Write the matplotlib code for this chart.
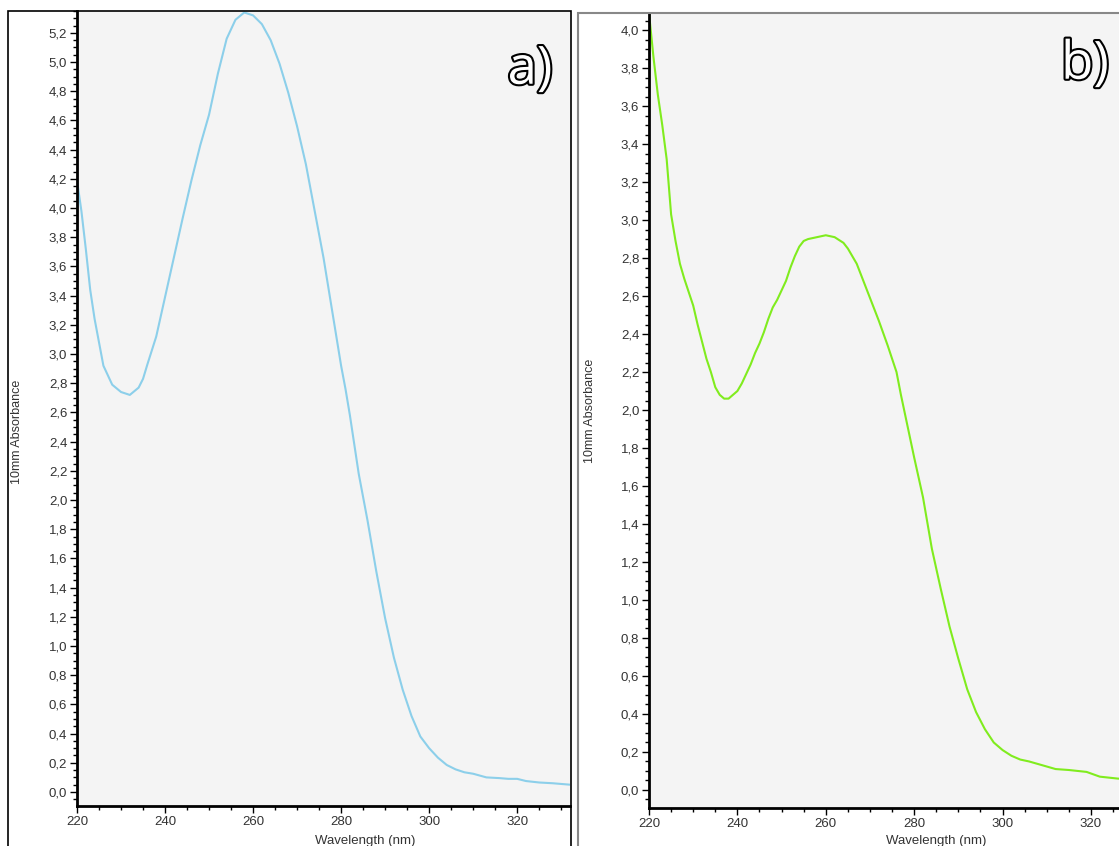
import matplotlib
matplotlib.use("Agg")
import matplotlib.pyplot as plt
import matplotlib.patheffects as pe
from matplotlib.patches import Rectangle
from matplotlib.ticker import MultipleLocator, FuncFormatter

# spectrum a)
wl_a = [220, 221, 222, 223, 224, 226, 228, 230, 232, 234, 235, 236, 238, 240,
        242, 244, 246, 248, 250, 252, 254, 256, 258, 260, 262, 264, 266, 268,
        270, 272, 274, 276, 278, 280, 281, 282, 283, 284, 285, 286, 288, 290,
        292, 294, 296, 298, 300, 302, 304, 306, 308, 310, 313, 316, 318, 320,
        322, 325, 328, 332]
abs_a = [4.19, 3.98, 3.72, 3.44, 3.24, 2.92, 2.79, 2.74, 2.72, 2.77, 2.83, 2.93,
         3.12, 3.39, 3.66, 3.93, 4.19, 4.43, 4.64, 4.92, 5.16, 5.29, 5.34, 5.32,
         5.26, 5.15, 4.99, 4.79, 4.56, 4.30, 3.98, 3.66, 3.29, 2.92, 2.76, 2.58,
         2.38, 2.18, 2.02, 1.86, 1.51, 1.19, 0.92, 0.70, 0.52, 0.38, 0.30, 0.235,
         0.185, 0.155, 0.135, 0.125, 0.10, 0.095, 0.09, 0.09, 0.075, 0.065, 0.06,
         0.05]

# spectrum b)
wl_b = [220, 221, 222, 223, 224, 225, 226, 227, 228, 229, 230, 231, 232, 233,
        234, 235, 236, 237, 238, 239, 240, 241, 242, 243, 244, 245, 246, 247,
        248, 249, 250, 251, 252, 253, 254, 255, 256, 258, 260, 262, 264, 265,
        266, 267, 268, 269, 270, 272, 274, 276, 277, 278, 280, 282, 284, 286,
        288, 290, 292, 294, 296, 298, 300, 302, 304, 306, 309, 312, 315, 319,
        322, 326, 332]
abs_b = [4.09, 3.86, 3.66, 3.50, 3.32, 3.03, 2.89, 2.77, 2.69, 2.62, 2.55, 2.45,
         2.36, 2.27, 2.20, 2.12, 2.08, 2.06, 2.06, 2.08, 2.10, 2.14, 2.19, 2.24,
         2.30, 2.35, 2.41, 2.48, 2.54, 2.58, 2.63, 2.68, 2.75, 2.81, 2.86, 2.89,
         2.90, 2.91, 2.92, 2.91, 2.88, 2.85, 2.81, 2.77, 2.71, 2.65, 2.59, 2.47,
         2.34, 2.20, 2.08, 1.97, 1.75, 1.54, 1.27, 1.06, 0.86, 0.69, 0.53, 0.41,
         0.32, 0.25, 0.21, 0.18, 0.16, 0.15, 0.13, 0.11, 0.105, 0.095, 0.07, 0.06,
         0.05]

W, H = 1119, 846
fig = plt.figure(figsize=(W / 100, H / 100), dpi=100)
plt.rcParams["font.family"] = ["Liberation Sans", "DejaVu Sans"]


def px_axes(left, top, right, bottom):
    return fig.add_axes([left / W, 1 - bottom / H, (right - left) / W, (bottom - top) / H])


comma = FuncFormatter(lambda v, p: ("%.1f" % v).replace(".", ","))


def style(ax, ylim, color, wl, ab, lab, lab_xy):
    ax.set_facecolor("#f4f4f4")
    ax.plot(wl, ab, color=color, lw=1.5)
    ax.set_xlim(220, 332)
    ax.set_ylim(*ylim)
    for s in ("top", "right"):
        ax.spines[s].set_visible(False)
    for s in ("left", "bottom"):
        ax.spines[s].set_linewidth(2)
        ax.spines[s].set_color("black")
    ax.xaxis.set_major_locator(MultipleLocator(20))
    ax.xaxis.set_minor_locator(MultipleLocator(5))
    ax.yaxis.set_major_locator(MultipleLocator(0.2))
    ax.yaxis.set_minor_locator(MultipleLocator(0.05))
    ax.yaxis.set_major_formatter(comma)
    ax.tick_params(which="major", length=5, width=1, labelsize=9.5, labelcolor="#333333", pad=2)
    ax.tick_params(which="minor", length=3, width=1)
    ax.set_ylabel("10mm Absorbance", fontsize=9, color="#333333")
    ax.set_xlabel("Wavelength (nm)", fontsize=9.5, color="#333333")
    fig.text(lab_xy[0] / W, 1 - lab_xy[1] / H, lab, fontsize=38, color="white",
             family=["Open Sans", "DejaVu Sans"], ha="center", va="center",
             path_effects=[pe.withStroke(linewidth=3, foreground="black")])


ax_a = px_axes(77, 11, 570, 806)
style(ax_a, (-0.096, 5.35), "#8ccfea", wl_a, abs_a, "a)", (530, 70))
ax_a.yaxis.set_label_coords((23 - 77) / 493, 0.47)
ax_a.xaxis.set_label_coords((365 - 77) / 493, (806 - 835) / 795)

ax_b = px_axes(649, 13, 1144, 808)
style(ax_b, (-0.095, 4.09), "#80ec1e", wl_b, abs_b, "b)", (1085, 65))
ax_b.yaxis.set_label_coords((596 - 649) / 495, 0.5)
ax_b.xaxis.set_label_coords((936 - 649) / 495, (808 - 835) / 795)

# outer frames around each panel
fig.patches.append(Rectangle((8 / W, -0.05), (571 - 8) / W, 1 - 11 / H + 0.05,
                             transform=fig.transFigure, fill=False, ec="black", lw=1.2))
fig.patches.append(Rectangle((578 / W, -0.05), 0.6, 1 - 13 / H + 0.05,
                             transform=fig.transFigure, fill=False, ec="#888888", lw=1.5))

fig.savefig("out.png", dpi=100)
